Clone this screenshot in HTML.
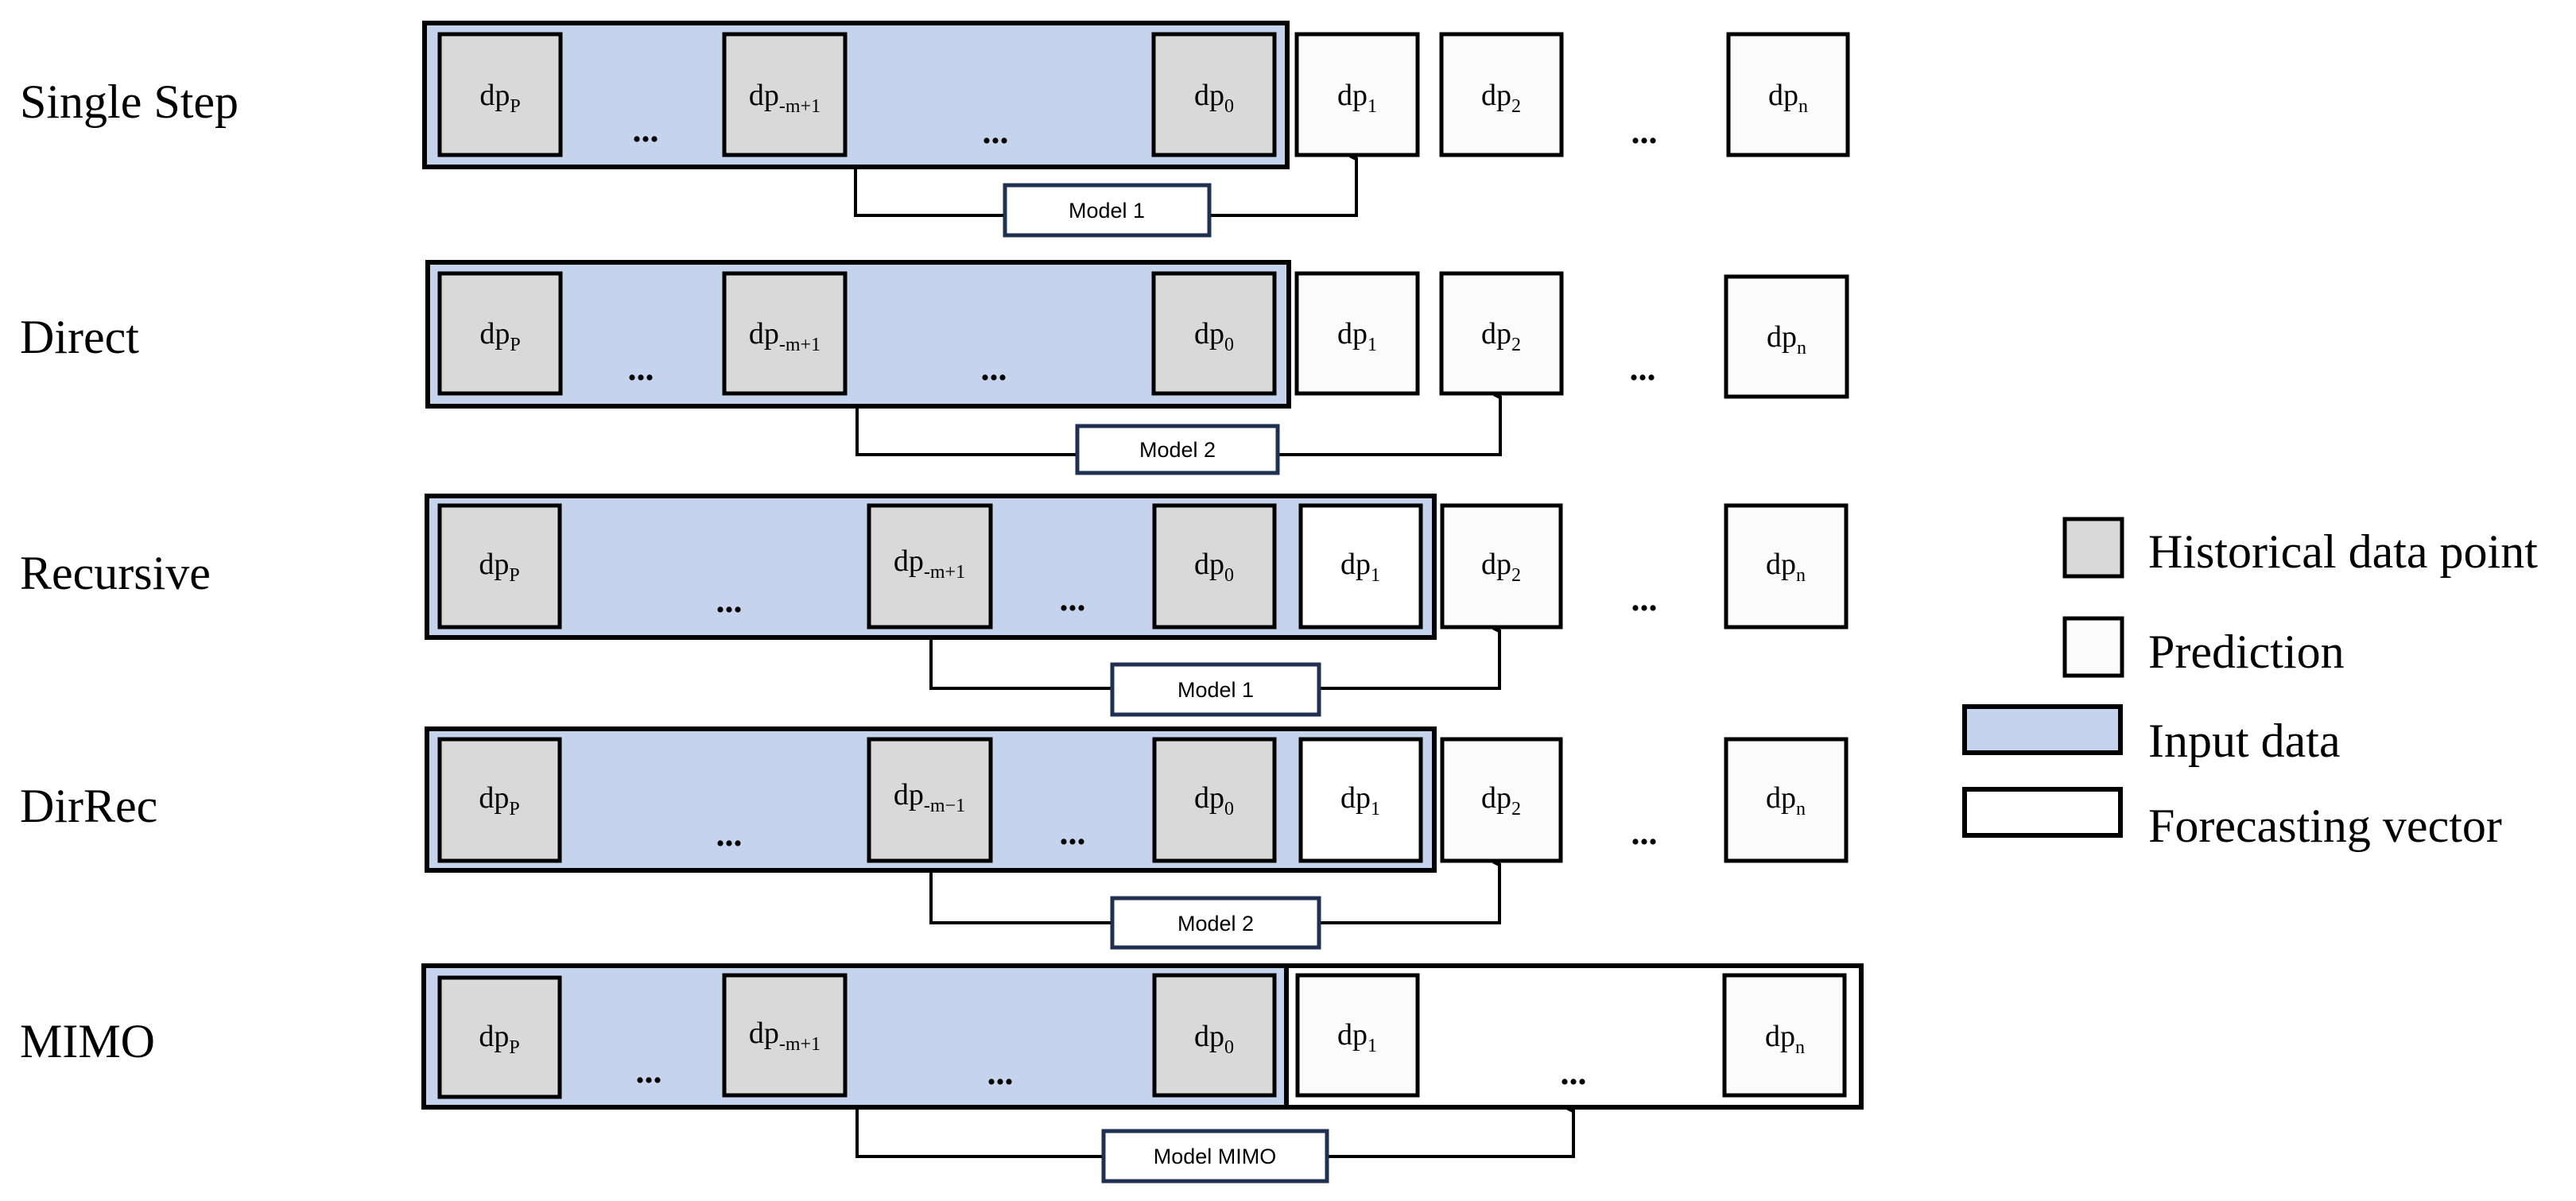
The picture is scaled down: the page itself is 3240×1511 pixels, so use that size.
<!DOCTYPE html>
<html><head><meta charset="utf-8"><style>
html,body{margin:0;padding:0;background:#fff;width:3240px;height:1511px;overflow:hidden}
svg{display:block}
.lbl{font-family:"Liberation Serif",serif;font-size:60px;fill:#000}
.dp{font-family:"Liberation Serif",serif;font-size:38px;fill:#000;text-anchor:middle}
.sub{font-size:24px}
.el{font-family:"Liberation Serif",serif;font-size:44px;font-weight:bold;fill:#000;text-anchor:middle}
.mod{font-family:"Liberation Sans",sans-serif;font-size:27px;fill:#000;text-anchor:middle}
.in{fill:#c5d4ec;stroke:#000;stroke-width:6}
.h{fill:#d9d9d9;stroke:#000;stroke-width:5}
.p{fill:#fcfbfc;stroke:#000;stroke-width:5}
.w{fill:#fff;stroke:#000;stroke-width:5}
.m{fill:#fff;stroke:#1f3050;stroke-width:5}
.c{fill:none;stroke:#000;stroke-width:4}
</style></head><body>
<svg width="3240" height="1511" viewBox="0 0 3240 1511" xmlns="http://www.w3.org/2000/svg">
<defs><marker id="a" markerWidth="10" markerHeight="10" refX="5" refY="9" orient="auto-start-reverse" markerUnits="userSpaceOnUse" viewBox="0 0 10 10"><path d="M0,10 L5,0 L10,10 Z" fill="#000"/></marker></defs>

<!-- Row labels -->
<text class="lbl" x="25" y="148">Single Step</text>
<text class="lbl" x="25" y="444">Direct</text>
<text class="lbl" x="25" y="741">Recursive</text>
<text class="lbl" x="25" y="1034">DirRec</text>
<text class="lbl" x="25" y="1330">MIMO</text>

<!-- Row 1 -->
<rect class="in" x="534" y="29" width="1085" height="181"/>
<rect class="h" x="553" y="43" width="152" height="152"/>
<rect class="h" x="911" y="43" width="152" height="152"/>
<rect class="h" x="1451" y="43" width="152" height="152"/>
<rect class="p" x="1631" y="43" width="152" height="152"/>
<rect class="p" x="1813" y="43" width="151" height="152"/>
<rect class="p" x="2174" y="43" width="150" height="152"/>
<text class="dp" x="629" y="132">dp<tspan class="sub" dy="9">P</tspan></text>
<text class="dp" x="987" y="132">dp<tspan class="sub" dy="9">-m+1</tspan></text>
<text class="dp" x="1527" y="132">dp<tspan class="sub" dy="9">0</tspan></text>
<text class="dp" x="1707" y="132">dp<tspan class="sub" dy="9">1</tspan></text>
<text class="dp" x="1888" y="132">dp<tspan class="sub" dy="9">2</tspan></text>
<text class="dp" x="2249" y="132">dp<tspan class="sub" dy="9">n</tspan></text>
<text class="el" x="812" y="178">...</text>
<text class="el" x="1252" y="180">...</text>
<text class="el" x="2068" y="180">...</text>
<polyline class="c" points="1076,210 1076,271 1264,271"/>
<polyline class="c" points="1521,271 1706,271 1706,198" marker-end="url(#a)"/>
<rect class="m" x="1264" y="233" width="257" height="63"/>
<text class="mod" x="1392" y="274">Model 1</text>

<!-- Row 2 -->
<rect class="in" x="538" y="330" width="1083" height="181"/>
<rect class="h" x="553" y="344" width="152" height="151"/>
<rect class="h" x="911" y="344" width="152" height="151"/>
<rect class="h" x="1451" y="344" width="152" height="151"/>
<rect class="p" x="1631" y="344" width="152" height="151"/>
<rect class="p" x="1813" y="344" width="151" height="151"/>
<rect class="p" x="2171" y="348" width="152" height="151"/>
<text class="dp" x="629" y="432">dp<tspan class="sub" dy="9">P</tspan></text>
<text class="dp" x="987" y="432">dp<tspan class="sub" dy="9">-m+1</tspan></text>
<text class="dp" x="1527" y="432">dp<tspan class="sub" dy="9">0</tspan></text>
<text class="dp" x="1707" y="432">dp<tspan class="sub" dy="9">1</tspan></text>
<text class="dp" x="1888" y="432">dp<tspan class="sub" dy="9">2</tspan></text>
<text class="dp" x="2247" y="436">dp<tspan class="sub" dy="9">n</tspan></text>
<text class="el" x="806" y="478">...</text>
<text class="el" x="1250" y="478">...</text>
<text class="el" x="2066" y="478">...</text>
<polyline class="c" points="1078,511 1078,572 1355,572"/>
<polyline class="c" points="1607,572 1887,572 1887,498" marker-end="url(#a)"/>
<rect class="m" x="1355" y="536" width="252" height="59"/>
<text class="mod" x="1481" y="575">Model 2</text>

<!-- Row 3 -->
<rect class="in" x="537" y="624" width="1267" height="178"/>
<rect class="h" x="553" y="636" width="151" height="153"/>
<rect class="h" x="1093" y="636" width="153" height="153"/>
<rect class="h" x="1452" y="636" width="151" height="153"/>
<rect class="w" x="1636" y="636" width="151" height="153"/>
<rect class="p" x="1814" y="636" width="149" height="153"/>
<rect class="p" x="2171" y="636" width="151" height="153"/>
<text class="dp" x="628" y="722">dp<tspan class="sub" dy="9">P</tspan></text>
<text class="dp" x="1169" y="718">dp<tspan class="sub" dy="9">-m+1</tspan></text>
<text class="dp" x="1527" y="722">dp<tspan class="sub" dy="9">0</tspan></text>
<text class="dp" x="1711" y="722">dp<tspan class="sub" dy="9">1</tspan></text>
<text class="dp" x="1888" y="722">dp<tspan class="sub" dy="9">2</tspan></text>
<text class="dp" x="2246" y="722">dp<tspan class="sub" dy="9">n</tspan></text>
<text class="el" x="917" y="770">...</text>
<text class="el" x="1349" y="768">...</text>
<text class="el" x="2068" y="768">...</text>
<polyline class="c" points="1171,802 1171,866 1399,866"/>
<polyline class="c" points="1659,866 1886,866 1886,792" marker-end="url(#a)"/>
<rect class="m" x="1399" y="836" width="260" height="63"/>
<text class="mod" x="1529" y="877">Model 1</text>

<!-- Row 4 -->
<rect class="in" x="537" y="917" width="1267" height="178"/>
<rect class="h" x="553" y="930" width="151" height="153"/>
<rect class="h" x="1093" y="930" width="153" height="153"/>
<rect class="h" x="1452" y="930" width="151" height="153"/>
<rect class="w" x="1636" y="930" width="151" height="153"/>
<rect class="p" x="1814" y="930" width="149" height="153"/>
<rect class="p" x="2171" y="930" width="151" height="153"/>
<text class="dp" x="628" y="1016">dp<tspan class="sub" dy="9">P</tspan></text>
<text class="dp" x="1169" y="1012">dp<tspan class="sub" dy="9">-m−1</tspan></text>
<text class="dp" x="1527" y="1016">dp<tspan class="sub" dy="9">0</tspan></text>
<text class="dp" x="1711" y="1016">dp<tspan class="sub" dy="9">1</tspan></text>
<text class="dp" x="1888" y="1016">dp<tspan class="sub" dy="9">2</tspan></text>
<text class="dp" x="2246" y="1016">dp<tspan class="sub" dy="9">n</tspan></text>
<text class="el" x="917" y="1064">...</text>
<text class="el" x="1349" y="1062">...</text>
<text class="el" x="2068" y="1062">...</text>
<polyline class="c" points="1171,1095 1171,1161 1399,1161"/>
<polyline class="c" points="1659,1161 1886,1161 1886,1086" marker-end="url(#a)"/>
<rect class="m" x="1399" y="1130" width="260" height="62"/>
<text class="mod" x="1529" y="1171">Model 2</text>

<!-- Row 5 -->
<rect class="w" x="1618" y="1215" width="723" height="178" style="stroke-width:6"/>
<rect class="in" x="533" y="1215" width="1085" height="178"/>
<rect class="h" x="553" y="1230" width="151" height="150"/>
<rect class="h" x="911" y="1227" width="152" height="151"/>
<rect class="h" x="1452" y="1227" width="151" height="151"/>
<rect class="p" x="1632" y="1227" width="151" height="151"/>
<rect class="p" x="2169" y="1227" width="151" height="151"/>
<text class="dp" x="628" y="1316">dp<tspan class="sub" dy="9">P</tspan></text>
<text class="dp" x="987" y="1312">dp<tspan class="sub" dy="9">-m+1</tspan></text>
<text class="dp" x="1527" y="1316">dp<tspan class="sub" dy="9">0</tspan></text>
<text class="dp" x="1707" y="1314">dp<tspan class="sub" dy="9">1</tspan></text>
<text class="dp" x="2245" y="1316">dp<tspan class="sub" dy="9">n</tspan></text>
<text class="el" x="816" y="1362">...</text>
<text class="el" x="1258" y="1364">...</text>
<text class="el" x="1979" y="1364">...</text>
<polyline class="c" points="1078,1393 1078,1455 1388,1455"/>
<polyline class="c" points="1669,1455 1979,1455 1979,1396" marker-end="url(#a)"/>
<rect class="m" x="1388" y="1423" width="281" height="63"/>
<text class="mod" x="1528" y="1464">Model MIMO</text>

<!-- Legend -->
<rect class="h" x="2597" y="653" width="72" height="72"/>
<text class="lbl" x="2702" y="714">Historical data point</text>
<rect class="p" x="2597" y="778" width="72" height="72"/>
<text class="lbl" x="2702" y="840">Prediction</text>
<rect class="in" x="2471" y="889" width="196" height="58"/>
<text class="lbl" x="2702" y="952">Input data</text>
<rect class="w" x="2471" y="993" width="196" height="58" style="stroke-width:6"/>
<text class="lbl" x="2702" y="1059">Forecasting vector</text>
</svg>
</body></html>
